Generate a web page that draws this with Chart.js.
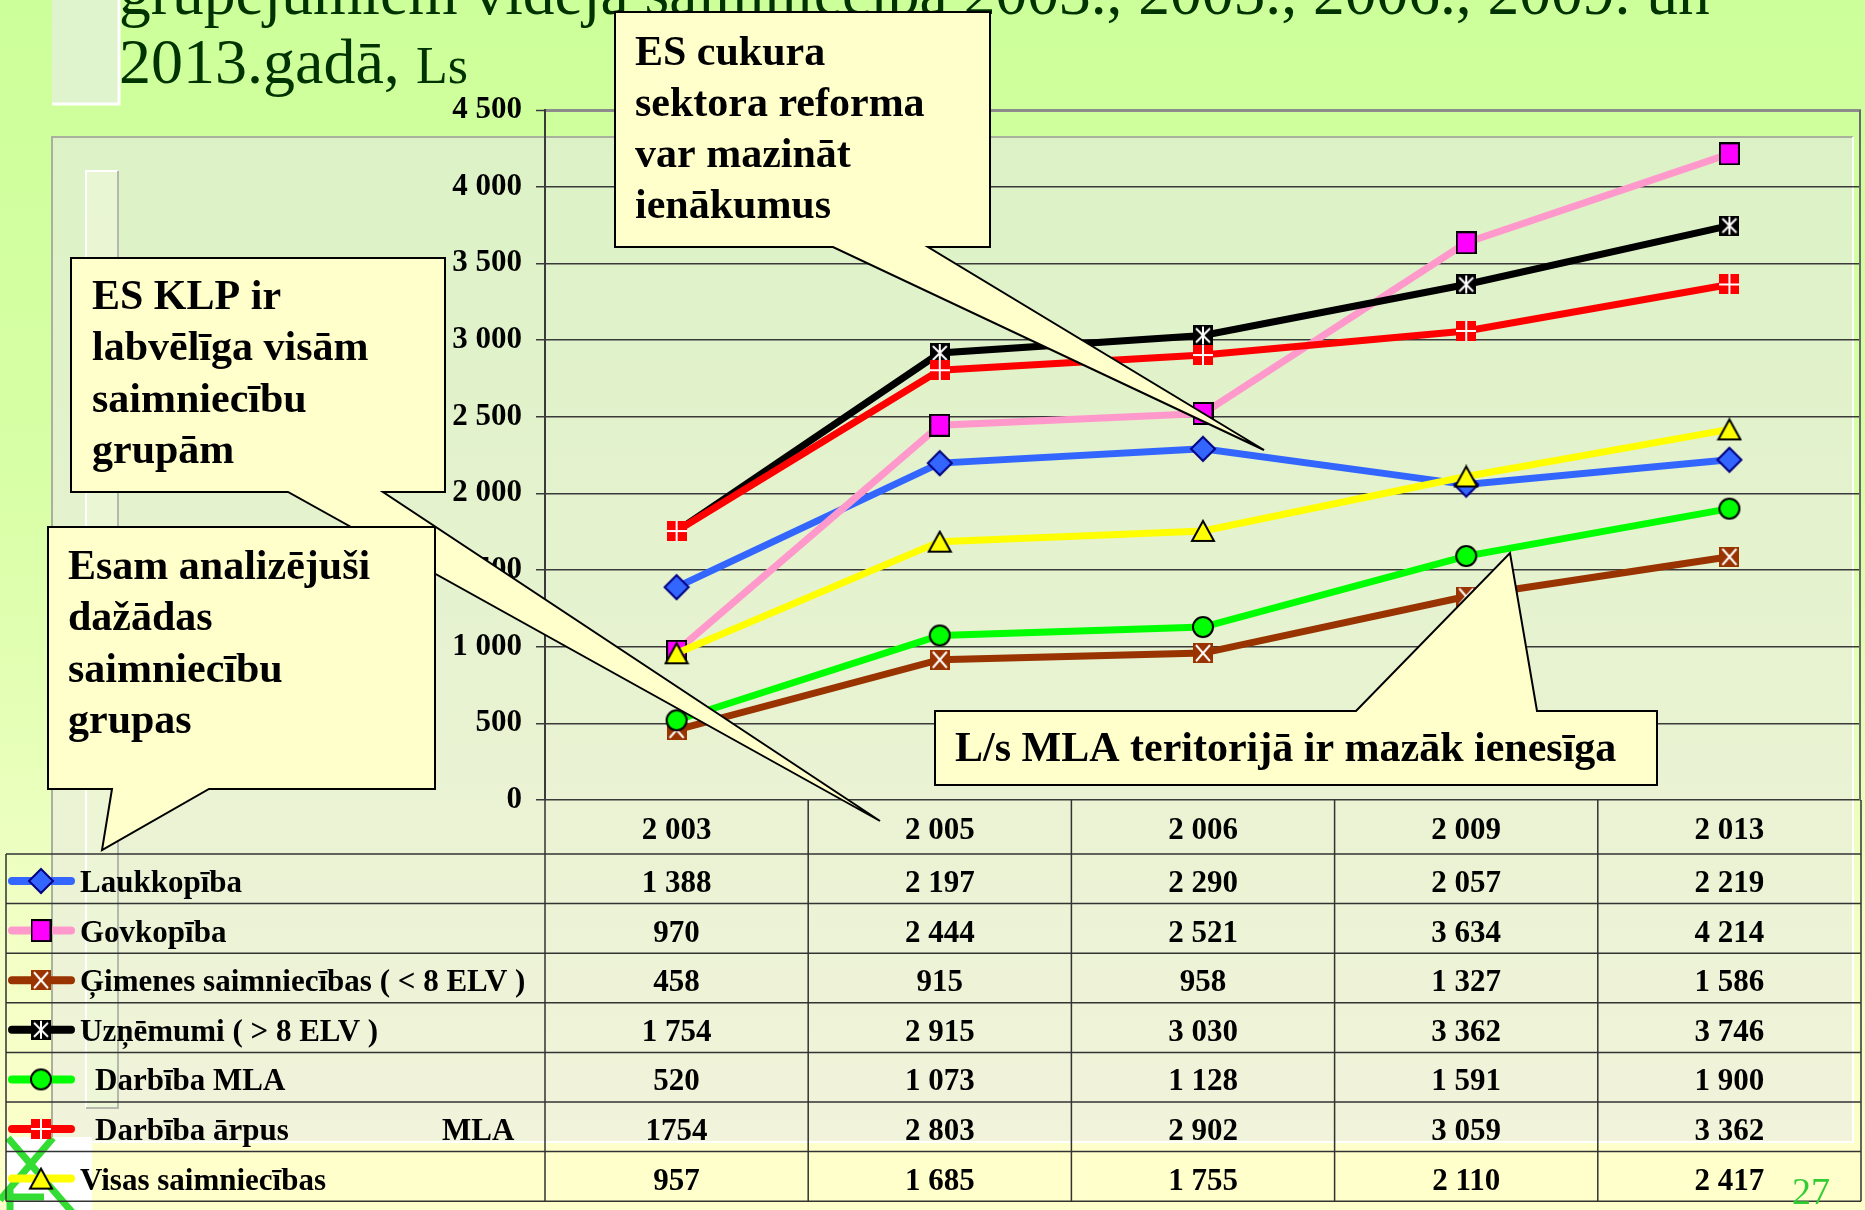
<!DOCTYPE html>
<html>
<head>
<meta charset="utf-8">
<script src="https://cdn.jsdelivr.net/npm/chart.js@4.4.1/dist/chart.umd.min.js"></script>
<style>
  html, body { margin: 0; padding: 0; overflow: hidden; background: #ccff99; }
  canvas { display: block; }
</style>
</head>
<body>
<canvas id="slide" width="1865" height="1210" style="width:1865px;height:1210px"></canvas>
<script>
// categories (years as printed on the slide)
const years = ["2 003", "2 005", "2 006", "2 009", "2 013"];

// average per farm, Ls
const laukkopiba = [1388, 2197, 2290, 2057, 2219];
const govkopiba = [970, 2444, 2521, 3634, 4214];
const gimenes = [458, 915, 958, 1327, 1586];
const uznemumi = [1754, 2915, 3030, 3362, 3746];
const darbibaMLA = [520, 1073, 1128, 1591, 1900];
const arpusMLA = [1754, 2803, 2902, 3059, 3362];
const visas = [957, 1685, 1755, 2110, 2417];

const seriesNames = [
  "Laukkopība",
  "Govkopība",
  "Ģimenes saimniecības ( < 8 ELV )",
  "Uzņēmumi ( > 8 ELV )",
  "Darbība MLA",
  "Darbība ārpus MLA",
  "Visas saimniecības"
];
// how the names are laid out in the table's first column
const rowLabels = [
  ["Laukkopība"],
  ["Govkopība"],
  ["Ģimenes saimniecības ( < 8 ELV )"],
  ["Uzņēmumi ( > 8 ELV )"],
  [" Darbība MLA"],
  [" Darbība ārpus", "MLA"],
  ["Visas saimniecības"]
];
const seriesColors = ["#3366ff", "#ff99cc", "#993300", "#000000", "#00ff00", "#ff0000", "#ffff00"];

const yMax = 4500;
const yStep = 500;

const titleLine1 = "grupējumiem vidējā saimniecībā 2003., 2005., 2006., 2009. un";
const titleLine2 = "2013.gadā,";
const titleUnit = "Ls";

const SERIF = '"Liberation Serif", "Times New Roman", serif';

function fmt(v) {
  return String(v).replace(/\B(?=(\d{3})+(?!\d))/g, " ");
}

// small canvases used as point styles
function mk(w, h, draw) {
  const c = document.createElement("canvas");
  c.width = w;
  c.height = h;
  draw(c.getContext("2d"), w, h);
  return c;
}

const markers = [
  mk(28, 28, g => {
    g.beginPath();
    g.moveTo(14, 2); g.lineTo(26, 14); g.lineTo(14, 26); g.lineTo(2, 14); g.closePath();
    g.fillStyle = "#3366ff"; g.fill();
    g.lineWidth = 2; g.strokeStyle = "#000080"; g.stroke();
  }),
  mk(21, 23, g => {
    g.fillStyle = "#ff00ff"; g.fillRect(1, 1, 19, 21);
    g.lineWidth = 2; g.strokeStyle = "#000"; g.strokeRect(1, 1, 19, 21);
  }),
  mk(20, 20, g => {
    g.fillStyle = "#993300"; g.fillRect(0, 0, 20, 20);
    g.strokeStyle = "#fff"; g.lineWidth = 2;
    g.beginPath(); g.moveTo(3, 2); g.lineTo(17, 18); g.moveTo(17, 2); g.lineTo(3, 18); g.stroke();
  }),
  mk(20, 20, g => {
    g.fillStyle = "#000"; g.fillRect(0, 0, 20, 20);
    g.strokeStyle = "#fff"; g.lineWidth = 2;
    g.beginPath();
    g.moveTo(3, 3); g.lineTo(17, 17); g.moveTo(17, 3); g.lineTo(3, 17);
    g.moveTo(10, 1); g.lineTo(10, 19);
    g.stroke();
  }),
  mk(24, 24, g => {
    g.beginPath(); g.arc(12, 12, 10, 0, Math.PI * 2);
    g.fillStyle = "#00ff00"; g.fill();
    g.lineWidth = 2; g.strokeStyle = "#000"; g.stroke();
  }),
  mk(20, 20, g => {
    g.fillStyle = "#ff0000"; g.fillRect(0, 0, 20, 20);
    g.strokeStyle = "#fff"; g.lineWidth = 2;
    g.beginPath(); g.moveTo(10, 0); g.lineTo(10, 20); g.moveTo(0, 10); g.lineTo(20, 10); g.stroke();
  }),
  mk(26, 24, g => {
    g.beginPath();
    g.moveTo(13, 2); g.lineTo(24, 22); g.lineTo(2, 22); g.closePath();
    g.fillStyle = "#ffff00"; g.fill();
    g.lineWidth = 2; g.strokeStyle = "#000"; g.stroke();
  })
];

const seriesData = [laukkopiba, govkopiba, gimenes, uznemumi, darbibaMLA, arpusMLA, visas];

// speech-bubble notes on the slide
const callouts = [
  { box: [615, 12, 990, 247], lines: ["ES cukura", "sektora reforma", "var mazināt", "ienākumus"],
    tx: 635, ty: 65, lh: 51, edge: "bottom", base: [833, 928], tip: [1264, 450] },
  { box: [71, 258, 445, 492], lines: ["ES KLP ir", "labvēlīga visām", "saimniecību", "grupām"],
    tx: 92, ty: 309, lh: 51.3, edge: "bottom", base: [288, 383], tip: [880, 821] },
  { box: [48, 527, 435, 789], lines: ["Esam analizējuši", "dažādas", "saimniecību", "grupas"],
    tx: 68, ty: 579, lh: 51.3, edge: "bottom", base: [112, 209], tip: [102, 850] },
  { box: [935, 711, 1657, 785], lines: ["L/s MLA teritorijā ir mazāk ienesīga"],
    tx: 955, ty: 761, lh: 0, edge: "top", base: [1356, 1537], tip: [1510, 553] }
];

function drawCallout(ctx, c) {
  const [x0, y0, x1, y1] = c.box;
  ctx.beginPath();
  if (c.edge === "top") {
    ctx.moveTo(x0, y0);
    ctx.lineTo(c.base[0], y0);
    ctx.lineTo(c.tip[0], c.tip[1]);
    ctx.lineTo(c.base[1], y0);
    ctx.lineTo(x1, y0);
    ctx.lineTo(x1, y1);
    ctx.lineTo(x0, y1);
  } else {
    ctx.moveTo(x0, y0);
    ctx.lineTo(x1, y0);
    ctx.lineTo(x1, y1);
    ctx.lineTo(c.base[1], y1);
    ctx.lineTo(c.tip[0], c.tip[1]);
    ctx.lineTo(c.base[0], y1);
    ctx.lineTo(x0, y1);
  }
  ctx.closePath();
  ctx.fillStyle = "#ffffcc";
  ctx.fill();
  ctx.lineWidth = 2;
  ctx.strokeStyle = "#000";
  ctx.stroke();
  ctx.fillStyle = "#000";
  ctx.font = "bold 42px " + SERIF;
  ctx.textAlign = "left";
  ctx.textBaseline = "alphabetic";
  c.lines.forEach((t, i) => ctx.fillText(t, c.tx, c.ty + i * c.lh));
}

const slideBackground = {
  id: "slideBackground",
  beforeDraw(chart) {
    const ctx = chart.ctx;
    ctx.save();
    const bg = ctx.createLinearGradient(0, 0, 0, 1210);
    bg.addColorStop(0, "#ccff99");
    bg.addColorStop(0.4, "#d8ffa6");
    bg.addColorStop(0.75, "#f0ffc4");
    bg.addColorStop(1, "#ffffcc");
    ctx.fillStyle = bg;
    ctx.fillRect(0, 0, 1865, 1210);

    // pale panel behind the chart and table
    const pg = ctx.createLinearGradient(0, 137, 0, 1142);
    pg.addColorStop(0, "#dcf2c6");
    pg.addColorStop(1, "#f1f3da");
    ctx.fillStyle = pg;
    ctx.fillRect(52, 137, 1801, 1005);
    ctx.lineWidth = 2;
    ctx.strokeStyle = "#a9b09e";
    ctx.beginPath();
    ctx.moveTo(52, 1142); ctx.lineTo(52, 137); ctx.lineTo(1853, 137);
    ctx.stroke();
    ctx.strokeStyle = "#ffffff";
    ctx.beginPath();
    ctx.moveTo(1853, 137); ctx.lineTo(1853, 1142); ctx.lineTo(52, 1142);
    ctx.stroke();
    ctx.fillStyle = "#ffffcc";
    ctx.fillRect(92, 1143, 1773, 67);

    // decorative bars on the left
    ctx.fillStyle = "#dff3cc";
    ctx.fillRect(52, 0, 67, 105);
    ctx.strokeStyle = "#ffffff";
    ctx.lineWidth = 3;
    ctx.beginPath();
    ctx.moveTo(52, 104); ctx.lineTo(119, 104); ctx.lineTo(119, 0);
    ctx.stroke();

    ctx.fillStyle = "rgba(236, 246, 214, 0.8)";
    ctx.fillRect(85, 170, 33, 938);
    ctx.lineWidth = 2;
    ctx.strokeStyle = "#ffffff";
    ctx.beginPath();
    ctx.moveTo(86, 1108); ctx.lineTo(86, 171); ctx.lineTo(118, 171);
    ctx.stroke();
    ctx.strokeStyle = "#b5b9ad";
    ctx.beginPath();
    ctx.moveTo(118, 171); ctx.lineTo(118, 1108); ctx.lineTo(86, 1108);
    ctx.stroke();

    // green mark in the bottom-left corner (sits under the table)
    ctx.fillStyle = "#ffffff";
    ctx.fillRect(6, 1137, 86, 73);
    ctx.strokeStyle = "#33dd33";
    ctx.lineWidth = 7;
    ctx.beginPath();
    ctx.moveTo(8, 1138); ctx.lineTo(72, 1212);
    ctx.moveTo(53, 1138); ctx.lineTo(0, 1200);
    ctx.moveTo(6, 1197); ctx.lineTo(44, 1197);
    ctx.moveTo(10, 1190); ctx.lineTo(10, 1212);
    ctx.stroke();
    ctx.restore();
  }
};

const dataTable = {
  id: "dataTable",
  afterDraw(chart) {
    const ctx = chart.ctx;
    const xs = chart.scales.x;
    const area = chart.chartArea;
    const n = years.length;
    const step = (xs.right - xs.left) / n;
    const headTop = area.bottom;
    const rowTop = 854;
    const rowH = 49.6;
    const bottom = rowTop + rowH * seriesData.length;
    ctx.save();

    // frame of the chart area
    ctx.strokeStyle = "#6b6b6b";
    ctx.lineWidth = 2;
    ctx.beginPath();
    ctx.moveTo(area.right - 1, area.top);
    ctx.lineTo(area.right - 1, area.bottom);
    ctx.stroke();

    // grid
    ctx.strokeStyle = "#333";
    ctx.lineWidth = 1.5;
    ctx.beginPath();
    for (let i = 0; i <= n; i++) {
      const x = xs.left + i * step;
      ctx.moveTo(x, headTop);
      ctx.lineTo(x, bottom);
    }
    ctx.moveTo(6, rowTop);
    ctx.lineTo(6, bottom);
    for (let r = 0; r <= seriesData.length; r++) {
      const y = rowTop + r * rowH;
      ctx.moveTo(6, y);
      ctx.lineTo(xs.right, y);
    }
    ctx.stroke();

    ctx.fillStyle = "#000";
    ctx.font = "bold 31px " + SERIF;
    ctx.textAlign = "center";
    ctx.textBaseline = "alphabetic";
    years.forEach((yr, i) => {
      ctx.fillText(yr, xs.getPixelForValue(i), headTop + 39);
    });

    seriesData.forEach((vals, r) => {
      const top = rowTop + r * rowH;
      // legend key
      const ky = top + 27;
      ctx.strokeStyle = seriesColors[r];
      ctx.lineWidth = 8;
      ctx.lineCap = "round";
      ctx.beginPath();
      ctx.moveTo(12, ky);
      ctx.lineTo(71, ky);
      ctx.stroke();
      const m = markers[r];
      ctx.drawImage(m, 41 - m.width / 2, ky - m.height / 2);

      ctx.fillStyle = "#000";
      ctx.textAlign = "left";
      const parts = rowLabels[r];
      ctx.fillText(parts[0].trim(), parts[0].startsWith(" ") ? 95 : 80, top + 38);
      if (parts[1]) ctx.fillText(parts[1], 442, top + 38);

      ctx.textAlign = "center";
      vals.forEach((v, i) => {
        // the slide prints this one cell without a thousands space
        const txt = (r === 5 && i === 0) ? String(v) : fmt(v);
        ctx.fillText(txt, xs.getPixelForValue(i), top + 38);
      });
    });
    ctx.restore();
  }
};

const slideOverlay = {
  id: "slideOverlay",
  afterDraw(chart) {
    const ctx = chart.ctx;
    ctx.save();
    // title (its first line runs off the top of the slide)
    ctx.fillStyle = "#003300";
    ctx.textAlign = "left";
    ctx.textBaseline = "alphabetic";
    ctx.font = "63.5px " + SERIF;
    ctx.fillText(titleLine1, 119, 14);
    ctx.font = "64px " + SERIF;
    ctx.fillText(titleLine2, 119, 83);
    ctx.font = "52px " + SERIF;
    ctx.fillText(titleUnit, 416, 83);

    callouts.forEach(c => drawCallout(ctx, c));

    // slide number
    ctx.fillStyle = "#33cc33";
    ctx.font = "38px " + SERIF;
    ctx.fillText("27", 1792, 1204);
    ctx.restore();
  }
};

document.fonts.load("bold 30px " + SERIF).finally(() => {
  new Chart(document.getElementById("slide"), {
    type: "line",
    data: {
      labels: years,
      datasets: seriesData.map((vals, i) => ({
        label: seriesNames[i],
        data: vals,
        borderColor: seriesColors[i],
        backgroundColor: seriesColors[i],
        borderWidth: 7,
        pointStyle: markers[i],
        pointRadius: 10,
        fill: false,
        tension: 0,
        order: seriesData.length - i
      }))
    },
    options: {
      responsive: false,
      animation: false,
      devicePixelRatio: 1,
      layout: { autoPadding: false, padding: { top: 110, right: 4, bottom: 0, left: 0 } },
      plugins: {
        legend: { display: false },
        tooltip: { enabled: false }
      },
      scales: {
        x: {
          offset: true,
          grid: { display: false },
          border: { display: false },
          ticks: { display: false },
          afterFit: s => { s.height = 410; }
        },
        y: {
          min: 0,
          max: yMax,
          ticks: {
            stepSize: yStep,
            callback: v => fmt(v),
            font: { family: SERIF, size: 31, weight: "bold" },
            color: "#000",
            padding: 14
          },
          grid: {
            color: ctx => (ctx.tick && ctx.tick.value === yMax ? "#8c8c8c" : "#3a3a3a"),
            lineWidth: ctx => (ctx.tick && ctx.tick.value === yMax ? 3 : 1.5),
            tickLength: 9,
            tickColor: "#3a3a3a",
            tickWidth: 1.5
          },
          border: { color: "#3a3a3a", width: 2 },
          afterFit: s => { s.width = 545; }
        }
      }
    },
    plugins: [slideBackground, dataTable, slideOverlay]
  });
});
</script>
</body>
</html>
